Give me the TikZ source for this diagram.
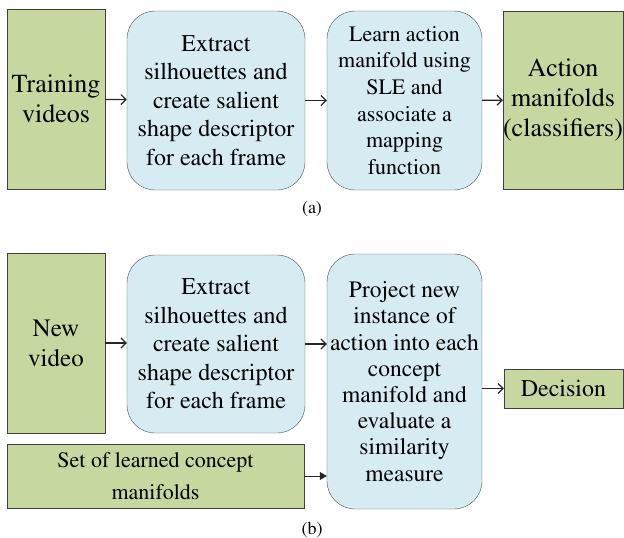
\documentclass[tikz,border=0pt]{standalone}
\usepackage[T1]{fontenc}
\usepackage{times}
\usetikzlibrary{arrows.meta, calc}
\definecolor{boxgreen}{RGB}{198,216,159}
\definecolor{boxblue}{RGB}{214,236,242}

\begin{document}
\begin{tikzpicture}[x=1pt, y=-1pt, font=\fontsize{24}{28.5}\selectfont]
	\tikzset	{
		data/.style={draw=black!75, fill=boxgreen, align=center, inner sep=0pt},
		proc/.style={draw=black!70, fill=boxblue, rounded corners=28pt, align=center, inner sep=0pt},
		flow/.style={-{Straight Barb[length=5pt, width=10pt]}, line width=1.2pt, black!85},
		feed/.style={-{Triangle[length=7pt, width=8pt]}, line width=0.8pt, black!85},
	}
	\useasboundingbox (0,0) rectangle (624,538);

	% (a) training
	\node[data, minimum width=98pt, minimum height=180pt, font=\fontsize{26}{30}\selectfont] (train) at (56,99) {Training\\videos};
	\node[proc, minimum width=178pt, minimum height=179pt] (extA) at (216,100.5) {Extract\\silhouettes and\\create salient\\shape descriptor\\for each frame};
	\node[proc, minimum width=155pt, minimum height=179pt, font=\fontsize{22}{26.7}\selectfont] (learn) at (404.5,100.5) {Learn action\\manifold using\\SLE and\\associate a\\mapping\\function};
	\node[data, minimum width=118pt, minimum height=178pt, font=\fontsize{26}{30}\selectfont] (act) at (563,100) {Action\\manifolds\\(classifiers)};
	\node[font=\fontsize{18}{20}\selectfont] (capA) at (312,209) {(a)};

	\draw[flow]	(train) -- (extA);
	\draw[flow]	(extA) -- (learn);
	\draw[flow]	(learn) -- (act);

	% (b) testing
	\node[data, minimum width=98pt, minimum height=180pt, font=\fontsize{25}{30}\selectfont] (newv) at (56,343) {New\\video};
	\node[proc, minimum width=178pt, minimum height=178pt] (extB) at (216,344) {Extract\\silhouettes and\\create salient\\shape descriptor\\for each frame};
	\node[data, minimum width=297pt, minimum height=64pt, font=\fontsize{22}{31.5}\selectfont] (setm) at (155.5,476) {Set of learned concept\\manifolds};
	\node[proc, minimum width=155pt, minimum height=255pt, font=\fontsize{23.5}{26.2}\selectfont] (proj) at (404.5,381.5) {Project new\\instance of\\action into each\\concept\\manifold and\\evaluate a\\similarity\\measure};
	\node[data, minimum width=119pt, minimum height=39pt] (dec) at (563.5,388.5) {Decision};
	\node[font=\fontsize{18}{20}\selectfont] (capB) at (312,530) {(b)};

	\draw[flow]	(newv) -- (newv -| extB.west);
	\draw[flow]	(extB.east) -- (extB.east -| proj.west);
	\draw[feed]	(setm.east) -- (setm.east -| proj.west);
	\draw[flow]	(proj.east |- dec.west) -- (dec.west);
\end{tikzpicture}
\end{document}
